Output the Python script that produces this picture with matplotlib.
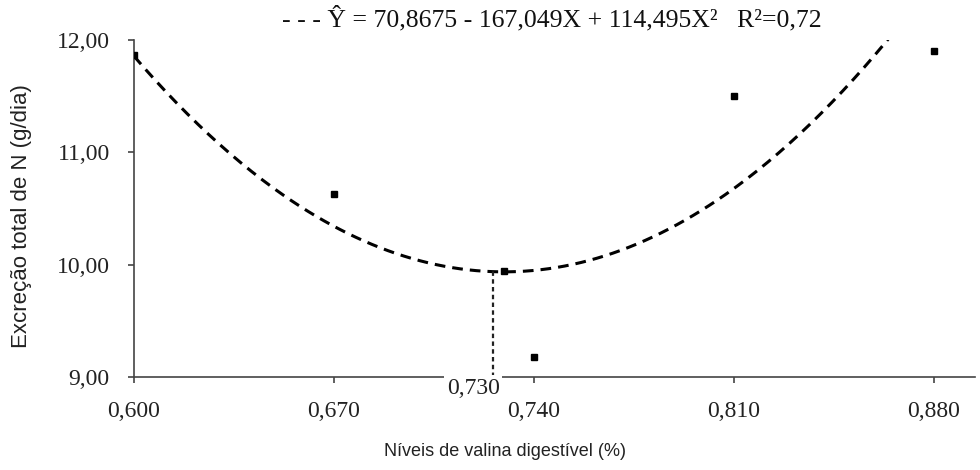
import numpy as np
import matplotlib
matplotlib.use("Agg")
import matplotlib.pyplot as plt

# Data
x_obs = [0.600, 0.670, 0.740, 0.810, 0.880]
y_obs = [11.87, 10.63, 9.18, 11.50, 11.90]
coef = [70.8675, -167.049, 114.495]
x_opt = 0.7295
y_opt = 9.94
vline_x = 0.7255
xticks = [0.600, 0.670, 0.740, 0.810, 0.880]
xtick_labels = ["0,600", "0,670", "0,740", "0,810", "0,880"]
yticks = [9, 10, 11, 12]
ytick_labels = ["9,00", "10,00", "11,00", "12,00"]
opt_label = "0,730"
eq_text = "- - - Ŷ = 70,8675 - 167,049X + 114,495X²   R²=0,72"

fig = plt.figure(figsize=(9.8, 4.7), dpi=100)
ax = fig.add_axes([134/980, 1-377/470, (975-134)/980, (377-40)/470])

xs = np.linspace(0.6, 0.88, 300)
ys = coef[0] + coef[1]*xs + coef[2]*xs**2
ax.plot(xs, ys, color="black", lw=2.2, ls=(0, (3.5, 2.3)), zorder=2)
ax.plot(x_obs, y_obs, ls="none", marker="s", ms=4.2, color="black", zorder=3)
ax.plot([x_opt], [y_opt], ls="none", marker="s", ms=4.2, color="black", zorder=3)
ax.plot([vline_x, vline_x], [9, y_opt], color="#222222", lw=1.6, ls=(0, (2, 1.5)), zorder=2)

ax.set_xlim(0.6, 0.8944)
ax.set_ylim(9, 12)
for s in ["top", "right"]:
    ax.spines[s].set_visible(False)
for s in ["left", "bottom"]:
    ax.spines[s].set_color("#444444")
    ax.spines[s].set_linewidth(1.2)

serif = "Liberation Serif"
ax.set_xticks(xticks)
ax.set_xticklabels(xtick_labels, fontfamily=serif, fontsize=17, color="#222222")
ax.set_yticks(yticks)
ax.set_yticklabels(ytick_labels, fontfamily=serif, fontsize=17, color="#222222")
ax.tick_params(axis="x", direction="out", length=4, width=1.2, color="#444444", pad=13)
ax.tick_params(axis="y", direction="out", length=4.5, width=1.2, color="#444444", pad=13)

ax.text(0.7187, 9.0 - 11/112.3, opt_label, ha="center", va="center", fontfamily=serif,
        fontsize=17, color="#222222", clip_on=False,
        bbox=dict(boxstyle="square,pad=0.12", fc="white", ec="none"), zorder=5)

fig.text(282/980, 1-19/470, eq_text, ha="left", va="center", fontfamily=serif,
         fontsize=18.5, color="#111111")
fig.text(22/980, 1-216/470, "Excreção total de N (g/dia)", rotation=90, ha="center",
         va="center", fontfamily="Liberation Sans", fontsize=16, color="#222222")
fig.text(505/980, 1-452/470, "Níveis de valina digestível (%)", ha="center", va="center",
         fontfamily="Liberation Sans", fontsize=13, color="#222222")

fig.savefig("out.png", dpi=100)
